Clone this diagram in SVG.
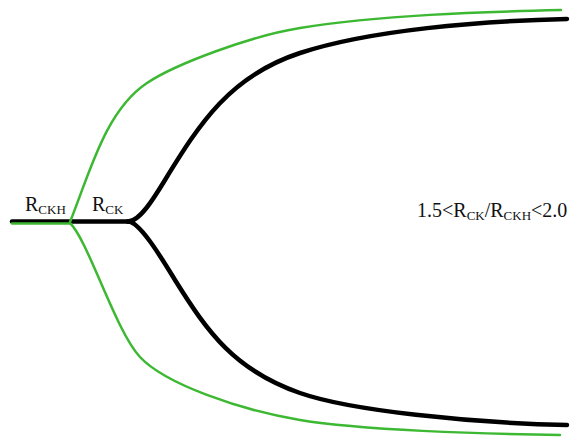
<svg xmlns="http://www.w3.org/2000/svg" width="570" height="438" viewBox="0 0 570 438">
<style>
.g{fill:none;stroke:#3cb832;stroke-width:2.5;stroke-linecap:round;stroke-linejoin:round}
.k{fill:none;stroke:#000;stroke-width:4.5;stroke-linecap:round;stroke-linejoin:round}
.t{font-family:"Liberation Serif","Times New Roman",serif;font-size:20px;fill:#111}
.s{font-size:13px}
</style>
<rect width="570" height="438" fill="#fff"/>
<g id="connectors">
<path class="k" d="M12,221.5 L130,221.5"/>
<path class="g" d="M12,223.5 L70,223.5"/>
<path class="g" d="M70,222 C90,172 105.4,110.7 147,83 C175,64.4 250,36 300,28 C380,15 480,12 561,10"/>
<path class="g" d="M70,223 C88,240 115,330 140,357 C165,384 240,410 300,420 C360,430 480,434 560,435"/>
<path class="k" d="M128,221.5 C140,221.5 155,196.3 165,180 C200,123 230,76 300,53 C370,30 480,21 567,19"/>
<path class="k" d="M128,221.5 C140,221.5 163,260.5 175,280 C208,333 235,370.25 300,393 C350,410.5 470,423 567,425"/>
</g>
<g id="label-rckh"><text class="t" x="25" y="211">R<tspan class="s" dy="3">CKH</tspan></text></g>
<g id="label-rck"><text class="t" x="92" y="211">R<tspan class="s" dy="3">CK</tspan></text></g>
<g id="label-ratio"><text class="t" x="417" y="217">1.5&lt;R<tspan class="s" dy="3">CK</tspan><tspan dy="-3">/R</tspan><tspan class="s" dy="3">CKH</tspan><tspan dy="-3">&lt;2.0</tspan></text></g>
</svg>
